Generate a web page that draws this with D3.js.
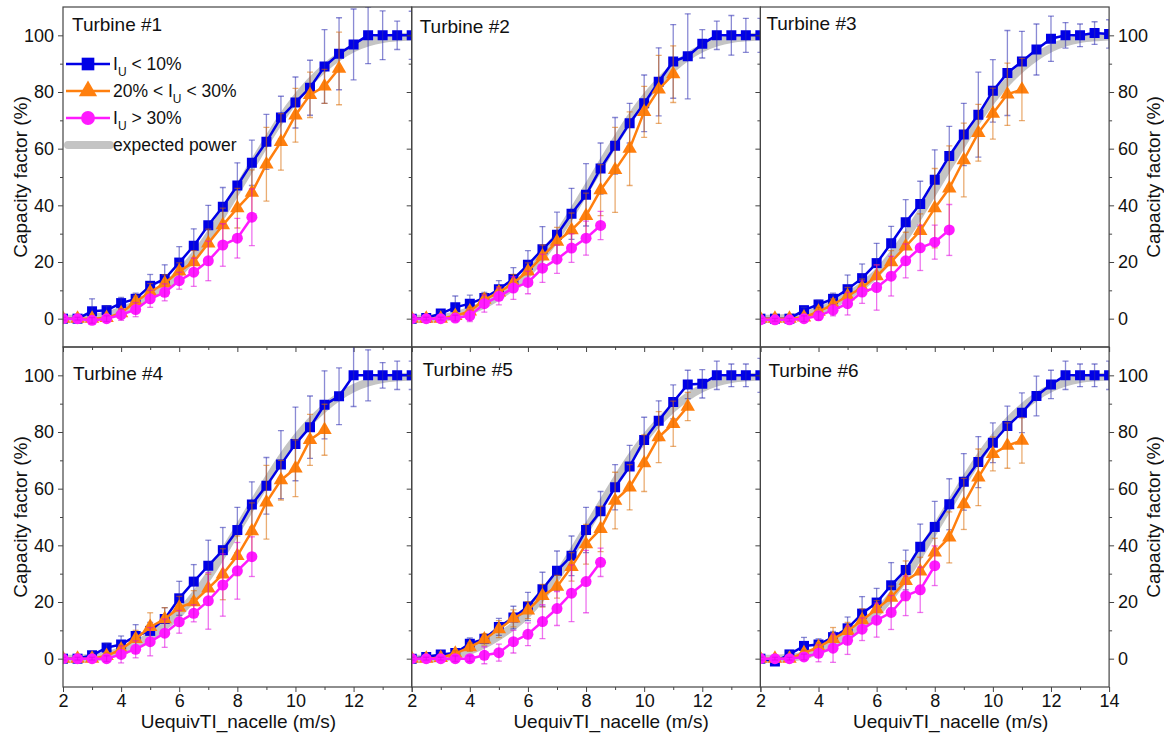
<!DOCTYPE html>
<html>
<head>
<meta charset="utf-8">
<script src="https://cdn.jsdelivr.net/npm/d3@7"></script>
<style>
  body { margin: 0; background: #fff; }
  svg { font-family: "Liberation Sans", Arial, sans-serif; }
  .tick line { stroke: #444; }
  .tick text { fill: #111; font-size: 18px; }
</style>
</head>
<body>
<div id="chart"></div>
<script>
// wind speed bins (m/s)
const speeds = [2,2.5,3,3.5,4,4.5,5,5.5,6,6.5,7,7.5,8,8.5,9,9.5,10,10.5,11,11.5,12,12.5,13,13.5,14];
const turbines = ['Turbine #1','Turbine #2','Turbine #3','Turbine #4','Turbine #5','Turbine #6'];
const xTicks = [2,4,6,8,10,12,14];
const xMinor = [3,5,7,9,11,13];
const yTicks = [0,20,40,60,80,100];
const yMinor = [10,30,50,70,90];

// IU < 10%
const lowTI = [
  [0,0,2.6,3,5.5,7,11.6,14,19.8,25.7,33,39.5,47,55,62.4,71,76.3,81.5,89,93.5,96.8,100,100,100,100],
  [0,0.2,1.8,4,5.3,7.3,10.4,14,19,24.5,29.6,37,43.7,53,61,69,76,83.6,90.8,92.6,97,100,100,100,100],
  [0,0,0,3,5,7,10.4,14.3,19.6,26.6,34,40.5,49,57.4,65,72,80.4,86.7,90.8,95,98.8,100,100,100.8,100.5],
  [0,0,1.2,3.9,5,8,9.8,14,21.3,27.2,32.8,38.3,45.4,54.4,61,68.5,75.8,81.7,89.6,92.6,100,100,100,100,100],
  [0,0.6,1.5,2,5.3,7,11.2,14.5,18.4,24.5,31,36.3,45.4,52,60.5,67.8,77.2,84,90.6,96.8,97,100,100,100,100],
  [0,-1,1.5,4.5,5,7.6,10.7,15.9,19.8,25.9,31.3,39.5,46.5,54.5,62.4,69.4,76.2,82.1,86.8,92.7,96.8,100,100,100,100]
];
const lowTIErr = [
  [0.5,0.5,4.4,1.5,2,2,4,5,5.6,6,7,6.8,8,8,9.7,7.5,9,9.7,13,12.7,12.5,10,8.6,5,8.5],
  [0.5,0.5,1,4,3,2,3,4,5,8,8,9,11,9,10,7,10,12,13,15,5,5,7,6,6],
  [0.5,0.5,0.5,1,1.5,2,5,5,7,6,8,8,10.6,10.5,11,15,11,15,10.6,9,8,4.5,4,4,5],
  [0.5,0.5,1,1.5,3,4,3,4,6,6,9,8,8,8,10,12,13,11,12,10,11,9,4.5,5,5],
  [0.5,0.5,1,1,2,1.5,3,4,5,6,7,7,8,7,8,7.5,8,7,6,5,5,5,4,4,6],
  [0.5,0.5,1,3,2,2,4,6,5,8,7,8,9,9,10,9,7,7,7,7,5,5,4,4,5]
];

// 20% < IU < 30%
const midTI = [
  [0,0,0,0.3,2,6,9.4,12.5,16.7,20,26.6,33,39,44.5,54.5,62.4,71.8,79,82,88.3],
  [0,0,0,1,2.6,6.7,9.3,12.6,16.7,22,27.2,31.3,36.3,45.4,52.5,60,73,80.9,86.3],
  [0,0,0,0.5,2.5,5,8,11,15,20,25.5,31,39,46,56,65.6,72.4,79.2,80.9],
  [0,0,0,1,3.3,7,11.2,14,18,20,24.8,29.8,36.3,45,55.2,63,67.2,77.2,80.8],
  [0,0,0.3,1.8,4.1,6.8,10.4,14.2,17.1,22.2,25.4,32.4,40.4,45.8,55.8,60.5,69,78.2,82.9,89],
  [0,0,0,2,4.1,7,9.8,13.6,17.5,21.6,27.5,30.8,37.5,42.8,54.6,64,72.3,75.2,77]
];
const midTIErr = [
  [0.5,0.5,0.5,1,1.5,2,3,3,3,4,5,6,7,8,13,10,9.5,8,6,12.8],
  [0.5,0.5,0.5,1,1.5,2,2,3,3,4,5,6,8,9,15,13,9,12,10],
  [0.5,0.5,0.5,1,1.5,2,3,3,4,4,5,6,14,15,13,10,9,11,11],
  [0.5,0.5,0.5,1,1.5,3,5,4,4,4,5,9,7,10,13,7,10,9,9],
  [0.5,0.5,1,1,1.5,2,3,3,3,4,4,5,7,8,10,8,10,9,8,5],
  [0.5,0.5,0.5,1,1.5,4,3,4,3,4,7,5,5,9,9,10,6,8,8]
];

// IU > 30%
const highTI = [
  [0,0,-0.6,0,1.4,3.2,7,9.3,13.4,16.4,20.4,26,28.4,35.8],
  [0,0,0,0.2,1,5.3,7.9,10.8,12.8,17.8,21,24.9,28.4,32.9],
  [-0.4,-0.4,-0.4,0,1,3,5.3,9.4,11,15,20.4,25,27,31.3],
  [0,0,0,0,1.5,3.3,6,9,13,16,20.4,26,31,36],
  [0,0,0,0,0,1.2,2.1,6,8.6,13.1,17.7,23.1,27.2,34],
  [0,0,0,0.6,1.9,3.7,6.5,10.4,13.6,16.3,22.2,24.3,32.8]
];
const highTIErr = [
  [0.5,0.5,1,1,2,2.5,3,3,3,5,7,7.5,7,10],
  [0.5,0.5,0.5,1,2,3,3,4,4,5,5,5,6,5],
  [0.5,0.5,0.5,1,1.5,2,4,4,8,7,6,8,6,9],
  [0.5,0.5,0.5,1,3,3,5,5,4,3,10,11,10,7],
  [0.5,0.5,0.5,1,1,3,3,4,4,6,6,10,11,5],
  [0.5,0.5,0.5,1,3,5,5,4,6,6,7,8,7]
];

const expectedPower = [0,0,0.3,1.2,2.8,5,8,11.5,16,22,29,37,45.5,54,62.5,70.5,77.5,83.5,88.5,92.5,95.5,97.5,98.7,99.3,99.6];

const series = [
  {vals: lowTI, errs: lowTIErr, color: '#0000e6', err: '#2a2ab0', shape: d3.symbolSquare, size: 100},
  {vals: midTI, errs: midTIErr, color: '#ff7f0e', err: '#d96a00', shape: d3.symbolTriangle, size: 90},
  {vals: highTI, errs: highTIErr, color: '#ff1aff', err: '#e000e0', shape: d3.symbolCircle, size: 95}
];

const width = 1164, height = 734;
const x0 = 63, y0 = 7, pw = 348.7, ph = 340;
const titleShift = [1, 25, 16];
const nameX = [9, 8, 6, 10, 11, 8];
const nameY = [24, 26, 23, 33, 29, 30];

const svg = d3.select('#chart').append('svg')
  .attr('width', width).attr('height', height);

const x = d3.scaleLinear().domain([2, 14]).range([0, pw]);
const y = d3.scaleLinear().domain([-10, 110]).range([ph, 0]);

turbines.forEach((name, i) => {
  const col = i % 3, row = Math.floor(i / 3);
  const g = svg.append('g')
    .attr('transform', `translate(${x0 + col * pw}, ${y0 + row * ph})`);

  g.append('clipPath').attr('id', 'clip' + i)
    .append('rect').attr('width', pw).attr('height', ph);
  const plot = g.append('g').attr('clip-path', `url(#clip${i})`);

  // expected power
  plot.append('path')
    .datum(expectedPower)
    .attr('fill', 'none')
    .attr('stroke', '#c4c4c4')
    .attr('stroke-width', 8)
    .attr('d', d3.line().x((d, k) => x(speeds[k])).y(d => y(d)).curve(d3.curveMonotoneX));

  series.forEach(s => {
    const pts = s.vals[i].map((v, k) => ({x: speeds[k], v: v, e: s.errs[i][k]}));
    plot.append('path')
      .datum(pts)
      .attr('fill', 'none')
      .attr('stroke', s.color)
      .attr('stroke-width', 2.5)
      .attr('d', d3.line().x(d => x(d.x)).y(d => y(d.v)));
    plot.append('g').selectAll('path')
      .data(pts)
      .join('path')
      .attr('transform', d => `translate(${x(d.x)},${y(d.v)})`)
      .attr('d', d3.symbol(s.shape, s.size))
      .attr('fill', s.color);
    const eb = plot.append('g')
      .attr('stroke', s.err)
      .attr('stroke-opacity', 0.55)
      .attr('stroke-width', 1.3);
    eb.selectAll('line.v').data(pts).join('line').attr('class', 'v')
      .attr('x1', d => x(d.x)).attr('x2', d => x(d.x))
      .attr('y1', d => y(d.v - d.e)).attr('y2', d => y(d.v + d.e));
    eb.selectAll('line.t').data(pts).join('line').attr('class', 't')
      .attr('x1', d => x(d.x) - 3).attr('x2', d => x(d.x) + 3)
      .attr('y1', d => y(d.v + d.e)).attr('y2', d => y(d.v + d.e));
    eb.selectAll('line.b').data(pts).join('line').attr('class', 'b')
      .attr('x1', d => x(d.x) - 3).attr('x2', d => x(d.x) + 3)
      .attr('y1', d => y(d.v - d.e)).attr('y2', d => y(d.v - d.e));
  });

  // axes
  g.append('g')
    .call(d3.axisLeft(y).tickValues(yTicks).tickSize(5).tickPadding(4)
      .tickFormat(col === 0 ? d3.format('d') : ''))
    .call(a => a.select('.domain').remove());
  g.append('g').call(d3.axisLeft(y).tickValues(yMinor).tickSize(3).tickFormat(''))
    .call(a => a.select('.domain').remove());
  if (col === 2) {
    g.append('g').attr('transform', `translate(${pw},0)`)
      .call(d3.axisRight(y).tickValues(yTicks).tickSize(5).tickPadding(4))
      .call(a => a.select('.domain').remove());
    g.append('g').attr('transform', `translate(${pw},0)`)
      .call(d3.axisRight(y).tickValues(yMinor).tickSize(3).tickFormat(''))
      .call(a => a.select('.domain').remove());
  }
  const xt = col === 2 ? xTicks : xTicks.filter(t => t < 14);
  g.append('g').attr('transform', `translate(0,${ph})`)
    .call(d3.axisBottom(x).tickValues(xTicks).tickSize(5).tickPadding(2)
      .tickFormat(d => row === 1 && xt.includes(d) ? d : ''))
    .call(a => a.select('.domain').remove())
    .call(a => a.selectAll('text').attr('font-size', 17.5));
  g.append('g').attr('transform', `translate(0,${ph})`)
    .call(d3.axisBottom(x).tickValues(xMinor).tickSize(3).tickFormat(''))
    .call(a => a.select('.domain').remove());

  g.append('rect')
    .attr('width', pw).attr('height', ph)
    .attr('fill', 'none').attr('stroke', '#444').attr('stroke-width', 1.2);

  g.append('text')
    .attr('x', nameX[i]).attr('y', nameY[i])
    .attr('font-size', 19).attr('fill', '#111')
    .text(name);

  if (row === 1) {
    svg.append('text')
      .attr('x', x0 + col * pw + pw / 2 + titleShift[col]).attr('y', 728)
      .attr('text-anchor', 'middle').attr('font-size', 19).attr('fill', '#111')
      .text('UequivTI_nacelle (m/s)');
  }
  if (col === 0) {
    svg.append('text')
      .attr('transform', `translate(27,${y0 + row * ph + ph / 2}) rotate(-90)`)
      .attr('text-anchor', 'middle').attr('font-size', 19).attr('fill', '#111')
      .text('Capacity factor (%)');
  }
  if (col === 2) {
    svg.append('text')
      .attr('transform', `translate(1160,${y0 + row * ph + ph / 2}) rotate(-90)`)
      .attr('text-anchor', 'middle').attr('font-size', 19).attr('fill', '#111')
      .text('Capacity factor (%)');
  }
});

// legend
const lg = svg.append('g').attr('transform', 'translate(66,0)');
const legendRows = [
  {pre: 'I', sub: 'U', post: ' < 10%', s: series[0]},
  {pre: '20% < I', sub: 'U', post: ' < 30%', s: series[1]},
  {pre: 'I', sub: 'U', post: ' > 30%', s: series[2]}
];
const rowY = [64, 91, 118, 145];
legendRows.forEach((r, k) => {
  lg.append('line').attr('x1', 0).attr('x2', 44).attr('y1', rowY[k]).attr('y2', rowY[k])
    .attr('stroke', r.s.color).attr('stroke-width', 2.5);
  lg.append('path').attr('transform', `translate(22,${rowY[k]})`)
    .attr('d', d3.symbol(r.s.shape, r.s.size * 1.6)).attr('fill', r.s.color);
  const t = lg.append('text').attr('x', 47).attr('y', rowY[k] + 6)
    .attr('font-size', 17.5).attr('fill', '#111');
  t.append('tspan').text(r.pre);
  t.append('tspan').attr('dy', 6).attr('font-size', 12).text(r.sub);
  t.append('tspan').attr('dy', -6).text(r.post);
});
lg.append('line').attr('x1', 2).attr('x2', 44).attr('y1', rowY[3]).attr('y2', rowY[3])
  .attr('stroke', '#c4c4c4').attr('stroke-width', 8).attr('stroke-linecap', 'round');
lg.append('text').attr('x', 47).attr('y', rowY[3] + 6)
  .attr('font-size', 17.5).attr('fill', '#111').text('expected power');
</script>
</body>
</html>
